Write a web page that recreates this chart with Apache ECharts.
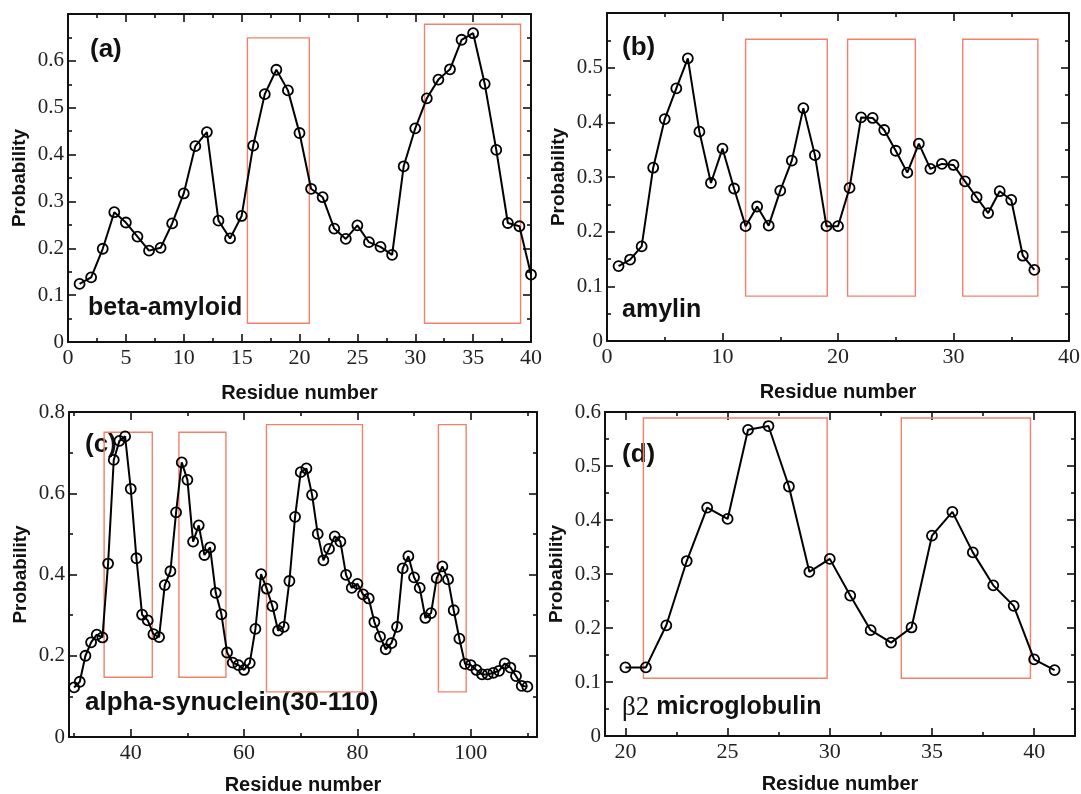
<!DOCTYPE html>
<html><head><meta charset="utf-8">
<script src="https://cdn.jsdelivr.net/npm/echarts@6/dist/echarts.min.js"></script>
<style>html,body{margin:0;padding:0;background:#fff}#c{width:1081px;height:794px}</style>
</head><body><div id="c"></div>
<script>
// ---------- data ----------
const aResidues = [1,2,3,4,5,6,7,8,9,10,11,12,13,14,15,16,17,18,19,20,21,22,23,24,25,26,27,28,29,30,31,32,33,34,35,36,37,38,39,40];
const aProb = [0.124,0.138,0.199,0.277,0.255,0.225,0.195,0.201,0.253,0.317,0.418,0.448,0.259,0.221,0.269,0.419,0.529,0.581,0.537,0.446,0.327,0.309,0.242,0.220,0.249,0.213,0.203,0.186,0.375,0.456,0.520,0.560,0.582,0.645,0.659,0.551,0.410,0.254,0.247,0.144];
const aBoxes = [[15.5,20.85,0.040,0.649],[30.8,39.1,0.040,0.678]];

const bResidues = [1,2,3,4,5,6,7,8,9,10,11,12,13,14,15,16,17,18,19,20,21,22,23,24,25,26,27,28,29,30,31,32,33,34,35,36,37];
const bProb = [0.137,0.149,0.173,0.317,0.406,0.462,0.517,0.383,0.289,0.352,0.279,0.210,0.246,0.211,0.275,0.330,0.426,0.340,0.210,0.210,0.280,0.409,0.408,0.386,0.348,0.308,0.361,0.315,0.324,0.322,0.292,0.263,0.234,0.274,0.258,0.156,0.130];
const bBoxes = [[12.0,19.07,0.082,0.552],[20.83,26.7,0.082,0.552],[30.8,37.3,0.082,0.552]];

const cResidues = [30,31,32,33,34,35,36,37,38,39,40,41,42,43,44,45,46,47,48,49,50,51,52,53,54,55,56,57,58,59,60,61,62,63,64,65,66,67,68,69,70,71,72,73,74,75,76,77,78,79,80,81,82,83,84,85,86,87,88,89,90,91,92,93,94,95,96,97,98,99,100,101,102,103,104,105,106,107,108,109,110];
const cProb = [0.122,0.136,0.200,0.233,0.252,0.245,0.427,0.682,0.729,0.740,0.611,0.440,0.301,0.287,0.253,0.246,0.374,0.408,0.553,0.676,0.633,0.481,0.521,0.448,0.467,0.355,0.302,0.208,0.183,0.177,0.165,0.182,0.266,0.401,0.365,0.322,0.262,0.271,0.384,0.542,0.652,0.661,0.596,0.500,0.435,0.463,0.494,0.481,0.399,0.367,0.377,0.351,0.341,0.283,0.247,0.216,0.231,0.271,0.415,0.445,0.393,0.367,0.293,0.305,0.391,0.420,0.388,0.312,0.242,0.180,0.177,0.165,0.154,0.154,0.158,0.163,0.181,0.171,0.150,0.126,0.124];
const cBoxes = [[35.3,43.8,0.147,0.750],[48.5,56.8,0.147,0.750],[63.95,80.9,0.111,0.769],[94.3,99.2,0.111,0.769]];

const dResidues = [20,21,22,23,24,25,26,27,28,29,30,31,32,33,34,35,36,37,38,39,40,41];
const dProb = [0.127,0.127,0.205,0.324,0.423,0.402,0.567,0.574,0.462,0.304,0.328,0.260,0.196,0.173,0.201,0.371,0.415,0.340,0.279,0.241,0.142,0.122];
const dBoxes = [[20.88,29.87,0.107,0.589],[33.5,39.82,0.107,0.589]];

// ticks & labels
const aXMajor = [0,5,10,15,20,25,30,35,40];
const aXMinor = [2.5,7.5,12.5,17.5,22.5,27.5,32.5,37.5];
const aYMajor = [0,0.1,0.2,0.3,0.4,0.5,0.6,0.7];
const aYMinor = [0.05,0.15,0.25,0.35,0.45,0.55,0.65];
const aYLabels = [0,0.1,0.2,0.3,0.4,0.5,0.6];

const bXMajor = [0,10,20,30,40];
const bXMinor = [5,15,25,35];
const bYMajor = [0,0.1,0.2,0.3,0.4,0.5,0.6];
const bYMinor = [0.05,0.15,0.25,0.35,0.45,0.55];
const bYLabels = [0,0.1,0.2,0.3,0.4,0.5];

const cXMajor = [40,60,80,100];
const cXMinor = [30,50,70,90,110];
const cYMajor = [0,0.2,0.4,0.6,0.8];
const cYMinor = [0.1,0.3,0.5,0.7];

const dXMajor = [20,25,30,35,40];
const dXMinor = [22.5,27.5,32.5,37.5];
const dYMajor = [0,0.1,0.2,0.3,0.4,0.5,0.6];
const dYMinor = [0.05,0.15,0.25,0.35,0.45,0.55];

const panelTags = ['(a)','(b)','(c)','(d)'];
const panelNames = ['beta-amyloid','amylin','alpha-synuclein(30-110)','{s|β2} microglobulin'];
const xTitle = 'Residue number';
const yTitle = 'Probability';

// ---------- layout ----------
const AX = '#111';
const SANS = '"Liberation Sans", Arial, sans-serif';
const SERIF = '"Liberation Serif", "Times New Roman", serif';
const fmtY = v => v === 0 ? '0' : (+v).toFixed(1);
const fmtX = v => String(Math.round(v*10)/10);

const grids = [
  {left:68, top:14, width:463, height:328},
  {left:607, top:13, width:462, height:328},
  {left:69, top:412, width:468, height:325},
  {left:605, top:412, width:470, height:324}
];

const panels = [
  {xr:[0,40], yr:[0,0.7], xs:aResidues, ys:aProb, boxes:aBoxes, xM:aXMajor, xm:aXMinor, xL:aXMajor, yM:aYMajor, ym:aYMinor, yL:aYLabels, xGap:41},
  {xr:[0,40], yr:[0,0.6], xs:bResidues, ys:bProb, boxes:bBoxes, xM:bXMajor, xm:bXMinor, xL:bXMajor, yM:bYMajor, ym:bYMinor, yL:bYLabels, xGap:41},
  {xr:[29.1,111.7], yr:[0,0.8], xs:cResidues, ys:cProb, boxes:cBoxes, xM:cXMajor, xm:cXMinor, xL:cXMajor, yM:cYMajor, ym:cYMinor, yL:cYMajor, xGap:38},
  {xr:[19,42], yr:[0,0.6], xs:dResidues, ys:dProb, boxes:dBoxes, xM:dXMajor, xm:dXMinor, xL:dXMajor, yM:dYMajor, ym:dYMinor, yL:dYMajor, xGap:38}
];

function axesFor(dim, g, p) {
  const isX = dim === 'x';
  const [mn, mx] = isX ? p.xr : p.yr;
  const major = isX ? p.xM : p.yM, minor = isX ? p.xm : p.ym, labels = isX ? p.xL : p.yL;
  const pos = isX ? ['bottom','top'] : ['left','right'];
  const base = {gridIndex:g, type:'value', min:mn, max:mx, splitLine:{show:false}, silent:true,
    axisLine:{show:true, onZero:false, lineStyle:{color:AX, width:2}}};
  const tick = (vals, len) => ({show:true, inside:true, length:len, customValues:vals, lineStyle:{color:AX, width:1.6}});
  const main = Object.assign({}, base, {
    position:pos[0],
    axisTick: tick(major, 8),
    axisLabel:{show:true, customValues:labels, formatter: isX ? fmtX : fmtY, margin: isX ? 5 : 4,
      fontFamily:SERIF, fontSize: isX ? 22 : 21, color:'#222'},
    name: isX ? xTitle : yTitle, nameLocation:'middle', nameGap: isX ? p.xGap : 39,
    nameRotate: isX ? 0 : 90,
    nameTextStyle:{fontFamily:SANS, fontWeight:'bold', fontSize: isX ? 20 : 19, color:'#111'}
  });
  const mainMinor = Object.assign({}, base, {position:pos[0], axisLine:{show:false, onZero:false}, axisTick: tick(minor, 4), axisLabel:{show:false}});
  const opp = Object.assign({}, base, {position:pos[1], axisTick: tick(major, 8), axisLabel:{show:false}});
  const oppMinor = Object.assign({}, base, {position:pos[1], axisLine:{show:false, onZero:false}, axisTick: tick(minor, 4), axisLabel:{show:false}});
  return [main, mainMinor, opp, oppMinor];
}

const xAxis = [], yAxis = [], series = [];
panels.forEach((p, g) => {
  xAxis.push(...axesFor('x', g, p));
  yAxis.push(...axesFor('y', g, p));
  series.push({
    type:'line', xAxisIndex:4*g, yAxisIndex:4*g,
    data: p.xs.map((x, i) => [x, p.ys[i]]),
    symbol:'circle', symbolSize:10, showSymbol:true,
    lineStyle:{color:'#000', width:2},
    itemStyle:{color:'rgba(0,0,0,0)', borderColor:'#000', borderWidth:1.8},
    emphasis:{disabled:true}, silent:true, z:3,
    markArea:{silent:true, z:1,
      itemStyle:{color:'rgba(0,0,0,0)', borderColor:'#f2816c', borderWidth:1.4},
      label:{show:false},
      data: p.boxes.map(b => [{coord:[b[0], b[2]]}, {coord:[b[1], b[3]]}])}
  });
});

const tagPos = [[90,37],[622,35],[85,432],[622,442]];
const namePos = [[88,296],[622,298],[85,690],[622,694]];
const nameSizes = [25,25,26,25];
const graphic = [];
panelTags.forEach((t, i) => graphic.push({type:'text', left:tagPos[i][0], top:tagPos[i][1], silent:true,
  style:{text:t, font:'bold 26px ' + SANS, fill:'#111'}}));
panelNames.forEach((t, i) => graphic.push({type:'text', left:namePos[i][0], top:namePos[i][1], silent:true,
  style:{text:t, font:'bold ' + nameSizes[i] + 'px ' + SANS, fill:'#111',
    rich:{s:{fontFamily:SERIF, fontWeight:'normal', fontSize:27, fill:'#111'}}}}));

const chart = echarts.init(document.getElementById('c'), null, {renderer:'canvas'});
chart.setOption({
  animation:false, backgroundColor:'#fff',
  grid: grids.map(g => Object.assign({containLabel:false, outerBoundsMode:'none'}, g)),
  xAxis, yAxis, series, graphic
});
</script>
</body></html>
